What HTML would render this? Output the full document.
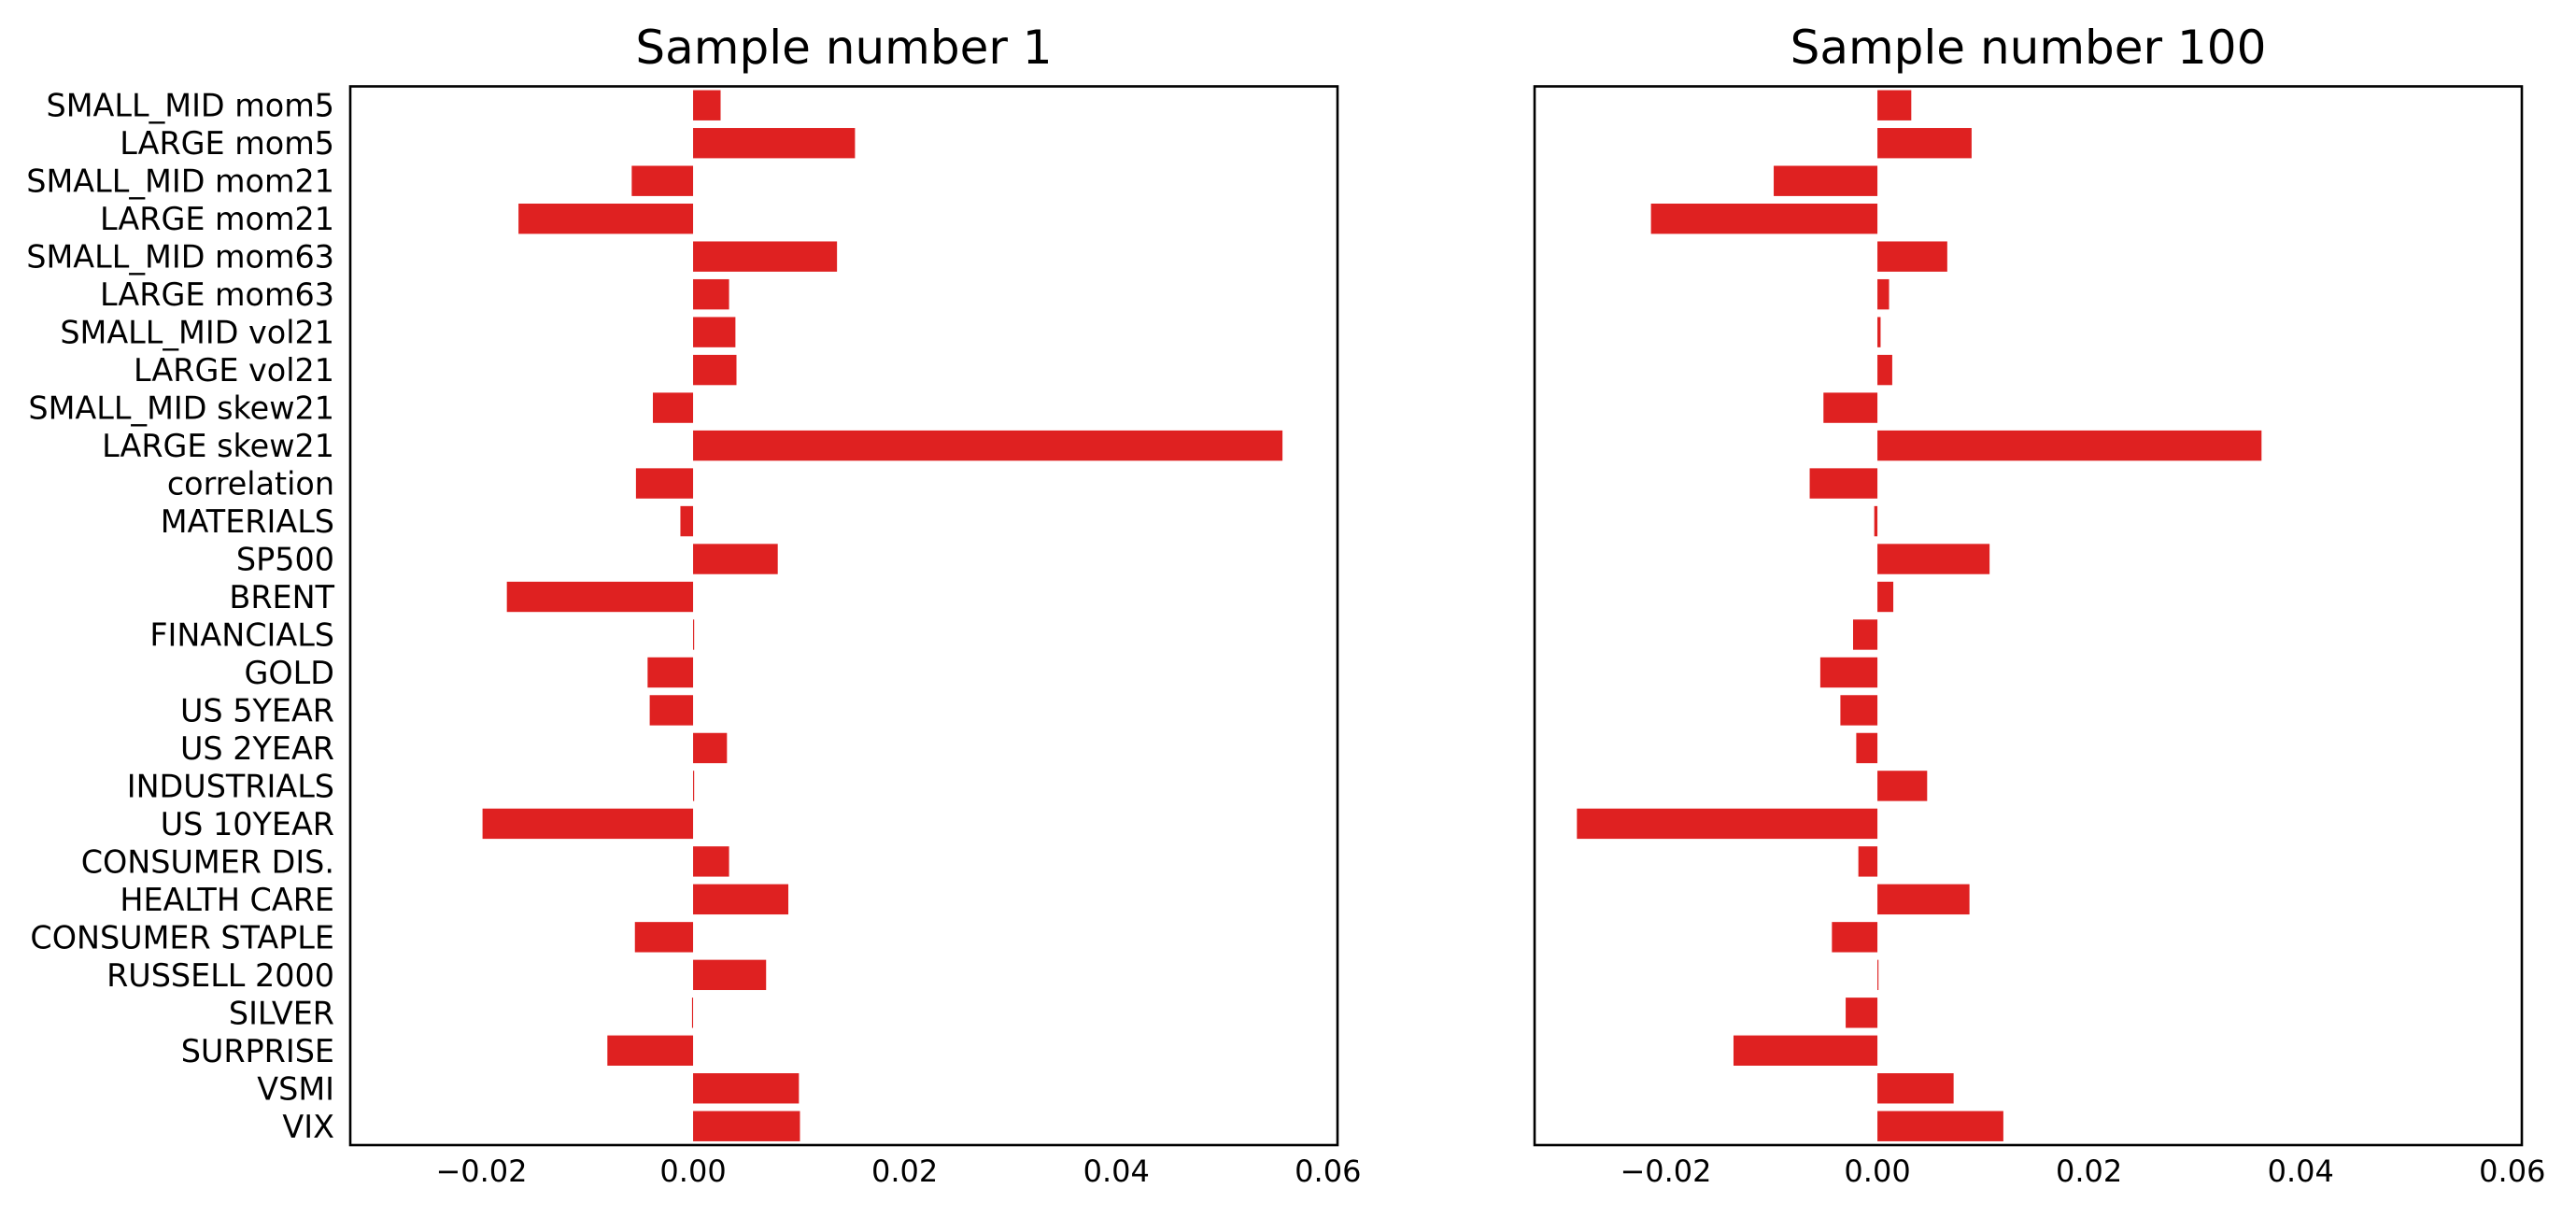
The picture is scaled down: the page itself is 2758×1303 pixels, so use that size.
<!DOCTYPE html>
<html><head><meta charset="utf-8"><style>
html,body{margin:0;padding:0;background:#fff;}
svg{display:block;}
text{font-family:"DejaVu Sans","Liberation Sans",sans-serif;fill:#000;}
</style></head>
<body>
<svg id="chart" width="2758" height="1303" viewBox="0 0 2758 1303" xmlns="http://www.w3.org/2000/svg"></svg>
<script>
const categories = ["SMALL_MID mom5","LARGE mom5","SMALL_MID mom21","LARGE mom21","SMALL_MID mom63","LARGE mom63","SMALL_MID vol21","LARGE vol21","SMALL_MID skew21","LARGE skew21","correlation","MATERIALS","SP500","BRENT","FINANCIALS","GOLD","US 5YEAR","US 2YEAR","INDUSTRIALS","US 10YEAR","CONSUMER DIS.","HEALTH CARE","CONSUMER STAPLE","RUSSELL 2000","SILVER","SURPRISE","VSMI","VIX"];
const sample1Values = [0.0026,0.0153,-0.0058,-0.0165,0.0136,0.0034,0.0040,0.0041,-0.0038,0.0557,-0.0054,-0.0012,0.0080,-0.0176,0.0001,-0.0043,-0.0041,0.0032,0.0001,-0.0199,0.0034,0.0090,-0.0055,0.0069,-0.0001,-0.0081,0.0100,0.0101];
const sample100Values = [0.0032,0.0089,-0.0098,-0.0214,0.0066,0.0011,0.0003,0.0014,-0.0051,0.0363,-0.0064,-0.0003,0.0106,0.0015,-0.0023,-0.0054,-0.0035,-0.0020,0.0047,-0.0284,-0.0018,0.0087,-0.0043,0.0001,-0.0030,-0.0136,0.0072,0.0119];
const xTicks = [-0.02,0.00,0.02,0.04,0.06];
const xTickLabels = ["\u22120.02","0.00","0.02","0.04","0.06"];
const titles = ["Sample number 1","Sample number 100"];

const NS = "http://www.w3.org/2000/svg";
const svgEl = document.getElementById('chart');
const xMin = -0.0324, xMax = 0.0609;
const plotTop = 92.5, plotBottom = 1226;
const panels = [{left:375,right:1432,vals:sample1Values,labels:true},{left:1643,right:2700,vals:sample100Values,labels:false}];
function mk(tag, attrs){const e=document.createElementNS(NS,tag);for(const k in attrs)e.setAttribute(k,attrs[k]);return e;}

panels.forEach((p,pi)=>{
  const g = mk('g',{});
  
  
  svgEl.appendChild(g);
  const xs = v => p.left + (v - xMin)/(xMax - xMin)*(p.right - p.left);
  const band = (plotBottom - plotTop)/categories.length;
  const ys = i => plotTop + i*band;
  p.vals.forEach((v,i)=>{
    const x0 = xs(0), x1 = xs(v);
    const r = mk('rect',{x:Math.min(x0,x1),y:ys(i)+band*0.1,width:Math.max(Math.abs(x1-x0),0.8),height:band*0.8,fill:'#df2121'});
    
    
    g.appendChild(r);
    if(p.labels){
      const t = mk('text',{x:358,y:ys(i)+band/2+12,'font-size':33.4,'text-anchor':'end'});
      t.textContent = categories[i];
      
      
      g.appendChild(t);
    }
  });
  const frame = mk('rect',{x:p.left,y:plotTop,width:p.right-p.left,height:plotBottom-plotTop,fill:'none',stroke:'#000','stroke-width':2.6});
  
  
  g.appendChild(frame);
  xTicks.forEach((tv,ti)=>{
    const t = mk('text',{x:xs(tv),y:1265,'font-size':32,'text-anchor':'middle'});
    t.textContent = xTickLabels[ti];
    
    
    g.appendChild(t);
  });
  const title = mk('text',{x:(p.left+p.right)/2,y:68,'font-size':50,'text-anchor':'middle'});
  title.textContent = titles[pi];
  
  
  g.appendChild(title);
});
</script>
</body></html>
